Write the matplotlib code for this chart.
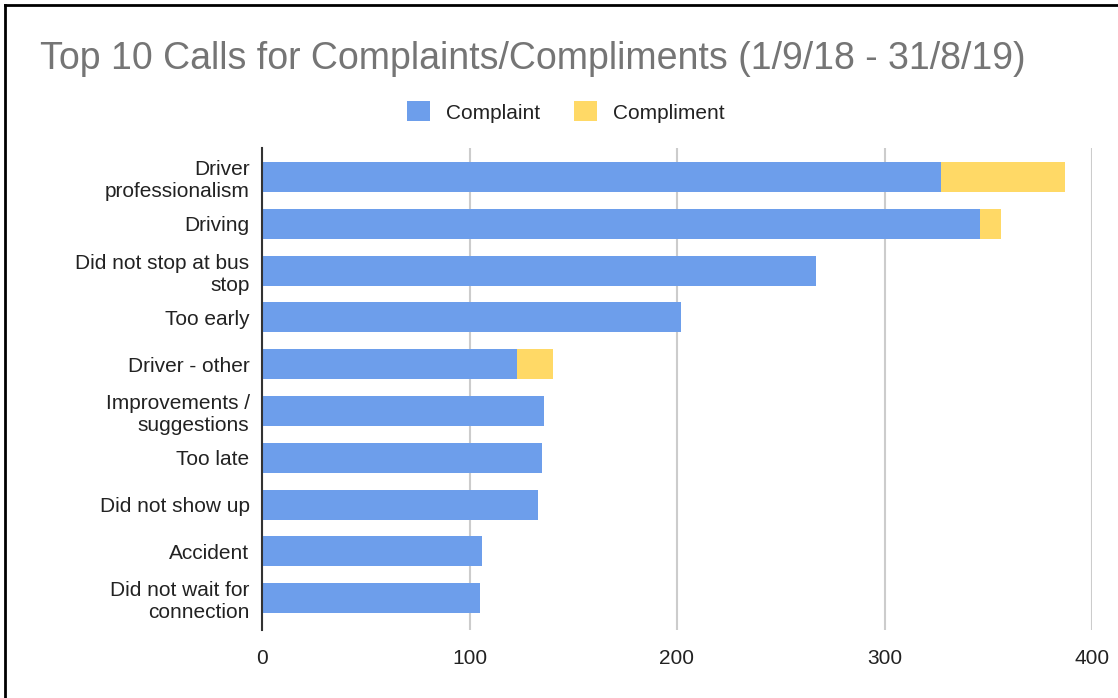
import matplotlib.pyplot as plt
from matplotlib.lines import Line2D
from matplotlib.patches import Patch

categories = [
    "Driver\nprofessionalism",
    "Driving",
    "Did not stop at bus\nstop",
    "Too early",
    "Driver - other",
    "Improvements /\nsuggestions",
    "Too late",
    "Did not show up",
    "Accident",
    "Did not wait for\nconnection",
]
complaints = [327, 346, 267, 202, 123, 136, 135, 133, 106, 105]
compliments = [60, 10, 0, 0, 17, 0, 0, 0, 0, 0]
x_ticks = [0, 100, 200, 300, 400]

BLUE = "#6d9eeb"
YELLOW = "#ffd966"
TEXT = "#222222"

plt.rcParams["font.family"] = ["Liberation Sans", "DejaVu Sans"]

W, H = 1118, 698
fig = plt.figure(figsize=(W / 100, H / 100), dpi=100)
fig.patch.set_facecolor("white")

ax = fig.add_axes([262 / W, 1 - 630 / H, (1092 - 262) / W, (630 - 148) / H])
ypos = list(range(len(categories)))
ax.barh(ypos, complaints, height=0.64, color=BLUE, zorder=3)
ax.barh(ypos, compliments, left=complaints, height=0.64, color=YELLOW, zorder=3)

ax.set_xlim(0, 400)
ax.set_ylim(9.68, -0.62)
ax.set_xticks(x_ticks)
ax.set_xticklabels([str(t) for t in x_ticks])
ax.set_yticks(ypos)
ax.set_yticklabels(categories, linespacing=1.2)
ax.tick_params(axis="both", length=0, labelsize=15, labelcolor=TEXT)
ax.tick_params(axis="x", pad=14)
ax.tick_params(axis="y", pad=9)
ax.xaxis.grid(True, color="#cccccc", linewidth=1.5, zorder=0)
ax.yaxis.grid(False)
for s in ["top", "right", "bottom"]:
    ax.spines[s].set_visible(False)
ax.spines["left"].set_color("#333333")
ax.spines["left"].set_linewidth(1.5)
ax.spines["left"].set_zorder(4)
ax.set_facecolor("white")

fig.text(40 / W, 1 - 59 / H, "Top 10 Calls for Complaints/Compliments (1/9/18 - 31/8/19)",
         fontsize=27, color="#757575", va="center", ha="left")

handles = [Patch(facecolor=BLUE, edgecolor="none"), Patch(facecolor=YELLOW, edgecolor="none")]
fig.legend(handles, ["Complaint", "Compliment"], loc="center", bbox_to_anchor=(566 / W, 1 - 112 / H),
           ncol=2, frameon=False, fontsize=15, handlelength=1.1, handleheight=1.1,
           handletextpad=0.8, columnspacing=1.6, labelcolor=TEXT)

# outer frame (left and top edges)
fig.add_artist(Line2D([5 / W, 5 / W], [0, 1 - 5 / H], color="black", linewidth=2, transform=fig.transFigure))
fig.add_artist(Line2D([5 / W, 1], [1 - 5 / H, 1 - 5 / H], color="black", linewidth=2, transform=fig.transFigure))

fig.savefig("out.png", dpi=100)
